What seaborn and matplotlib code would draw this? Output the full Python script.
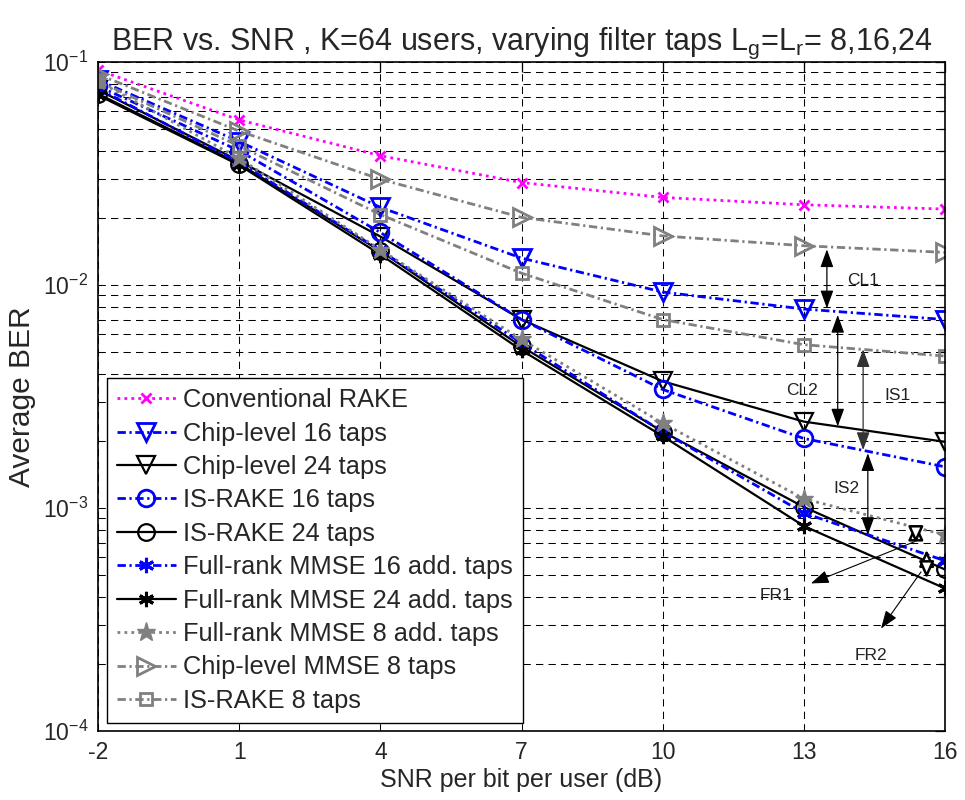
import numpy as np
import pandas as pd
import matplotlib
matplotlib.use("Agg")
import matplotlib.pyplot as plt
import seaborn as sns

# ---------------- data ----------------
snr = [-2, 1, 4, 7, 10, 13, 16]
conv_rake = [0.092, 0.055, 0.038, 0.0288, 0.0247, 0.0229, 0.0219]
chip16 = [0.083, 0.044, 0.0223, 0.0132, 0.0093, 0.0078, 0.0070]
chip24 = [0.075, 0.036, 0.0165, 0.0070, 0.0037, 0.00244, 0.00198]
israke16 = [0.078, 0.040, 0.0172, 0.0070, 0.0034, 0.00205, 0.00153]
israke24 = [0.072, 0.035, 0.0142, 0.0053, 0.0022, 0.00101, 0.00053]
fr16 = [0.076, 0.0355, 0.0143, 0.0055, 0.0022, 0.00095, 0.00058]
fr24 = [0.071, 0.0345, 0.0137, 0.0051, 0.0021, 0.00083, 0.000436]
fr8 = [0.082, 0.037, 0.0144, 0.0057, 0.0024, 0.0011, 0.000757]
chip8 = [0.088, 0.049, 0.0298, 0.0201, 0.0166, 0.0150, 0.0140]
israke8 = [0.082, 0.042, 0.0207, 0.0113, 0.0070, 0.0054, 0.0048]

labels = ["Conventional RAKE", "Chip-level 16 taps", "Chip-level 24 taps",
          "IS-RAKE 16 taps", "IS-RAKE 24 taps", "Full-rank MMSE 16 add. taps",
          "Full-rank MMSE 24 add. taps", "Full-rank MMSE 8 add. taps",
          "Chip-level MMSE 8 taps", "IS-RAKE 8 taps"]
series = [conv_rake, chip16, chip24, israke16, israke24, fr16, fr24, fr8, chip8, israke8]

xticks = [-2, 1, 4, 7, 10, 13, 16]
title = "BER vs. SNR , K=64 users, varying filter taps L$_{\\rm g}$=L$_{\\rm r}$= 8,16,24"

# annotation labels (text, x, y)
ann_labels = [("CL1", 14.25, 0.0105), ("CL2", 12.97, 0.00336), ("IS1", 15.0, 0.00321),
              ("IS2", 13.9, 0.00122), ("FR1", 12.4, 0.000407), ("FR2", 14.43, 0.000219)]

# ---------------- styles ----------------
sns.set_style("white")
plt.rcParams["font.family"] = ["Liberation Sans", "DejaVu Sans"]
plt.rcParams["mathtext.fontset"] = "custom"
plt.rcParams["mathtext.rm"] = "Liberation Sans"
plt.rcParams["mathtext.it"] = "Liberation Sans:italic"
plt.rcParams["mathtext.bf"] = "Liberation Sans:bold"

BLUE = "#0000FF"
MAG = "#FF00FF"
GRAY = "#808080"
BLK = "#000000"
dashdot = (0, (3, 1.3, 0.8, 1.3))
dotted = (0, (1, 1.5))
asterisk = (6, 2, 0)

styles = [
    dict(color=MAG, linestyle=dotted, lw=2.0, marker="x", ms=7, mec=MAG, mfc="none", mew=2),
    dict(color=BLUE, linestyle=dashdot, lw=2.0, marker="v", ms=13, mec=BLUE, mfc="none", mew=2),
    dict(color=BLK, linestyle="-", lw=1.6, marker="v", ms=13, mec=BLK, mfc="none", mew=1.6),
    dict(color=BLUE, linestyle=dashdot, lw=2.0, marker="o", ms=12, mec=BLUE, mfc="none", mew=2),
    dict(color=BLK, linestyle="-", lw=1.6, marker="o", ms=12, mec=BLK, mfc="none", mew=1.6),
    dict(color=BLUE, linestyle=dashdot, lw=2.0, marker=asterisk, ms=11, mec=BLUE, mfc=BLUE, mew=2.2),
    dict(color=BLK, linestyle="-", lw=1.6, marker=asterisk, ms=11, mec=BLK, mfc=BLK, mew=2.2),
    dict(color=GRAY, linestyle=dotted, lw=2.0, marker="*", ms=14, mec=GRAY, mfc=GRAY, mew=1),
    dict(color=GRAY, linestyle=dashdot, lw=2.0, marker=">", ms=13, mec=GRAY, mfc="none", mew=2),
    dict(color=GRAY, linestyle=dashdot, lw=2.0, marker="s", ms=9, mec=GRAY, mfc="none", mew=2),
]

fig = plt.figure(figsize=(9.65, 8.0), dpi=100)
ax = fig.add_axes([98 / 965, 1 - 731 / 800, 847 / 965, 669 / 800])

for lab, vals, st in zip(labels, series, styles):
    df = pd.DataFrame({"snr": snr, "ber": vals})
    sns.lineplot(data=df, x="snr", y="ber", ax=ax, label=lab,
                 color=st["color"], linestyle=st["linestyle"], linewidth=st["lw"],
                 marker=st["marker"], markersize=st["ms"], markeredgecolor=st["mec"],
                 markerfacecolor=st["mfc"], markeredgewidth=st["mew"], legend=False)

ax.set_yscale("log")
ax.set_xlim(-2, 16)
ax.set_ylim(1e-4, 1e-1)
ax.set_xticks(xticks)
ax.set_xticklabels([str(t) for t in xticks])

# grid, MATLAB-like
gls = (0, (7, 5))
ax.grid(True, which="major", axis="both", color="black", linestyle=gls, linewidth=0.75)
ax.grid(True, which="minor", axis="y", color="black", linestyle=gls, linewidth=0.75)
ax.set_axisbelow(True)

ax.tick_params(which="both", direction="in", top=True, right=True, labelsize=16.5,
               color="black", width=0.9, pad=7)
ax.tick_params(which="major", length=7)
ax.tick_params(which="minor", length=4)
for sp in ax.spines.values():
    sp.set_color("black")
    sp.set_linewidth(1.2)

ax.set_xlabel("SNR per bit per user (dB)", fontsize=18, labelpad=3)
ax.set_ylabel("Average BER", fontsize=21.5, labelpad=5)
ax.set_title(title, fontsize=22, pad=9)

# ---------------- annotations ----------------
def darrow(x, y0, y1, color="black", lw=0.9, hl=1.1, hw=0.4, fc=None):
    ap = dict(arrowstyle=f"<|-|>,head_length={hl},head_width={hw}",
              lw=lw, shrinkA=0, shrinkB=0)
    if fc is None:
        ap["color"] = color
    else:
        ap["facecolor"] = fc
        ap["edgecolor"] = color
    ax.annotate("", xy=(x, y1), xytext=(x, y0), arrowprops=ap, fontsize=10)

def sarrow(x0, y0, x1, y1, color="black", lw=0.8):
    ax.annotate("", xy=(x1, y1), xytext=(x0, y0),
                arrowprops=dict(arrowstyle="-|>,head_length=1.1,head_width=0.4",
                                color=color, lw=lw, shrinkA=0, shrinkB=0),
                fontsize=10)

darrow(13.49, 0.01445, 0.00786)
darrow(13.72, 0.00734, 0.00232)
darrow(14.26, 0.00515, 0.00182, color="#333333")
darrow(14.36, 0.00176, 0.000757)
darrow(15.38, 0.000853, 0.000695, hl=1.0, hw=0.45, fc="white", lw=1.8)
darrow(15.61, 0.000649, 0.000484, hl=1.0, hw=0.45, fc="white", lw=1.8)
sarrow(15.35, 0.000706, 13.15, 0.000459)
sarrow(15.49, 0.000517, 14.64, 0.000288)

for txt, x, y in ann_labels:
    ax.text(x, y, txt, fontsize=12.5, color="#222222", ha="center", va="center")

# ---------------- legend ----------------
leg = ax.legend(loc="lower left", bbox_to_anchor=(0.0106, 0.012), borderaxespad=0,
                fontsize=18.3, handlelength=2.3, handletextpad=0.3, labelspacing=0.37,
                borderpad=0.4, frameon=True, fancybox=False, framealpha=1,
                edgecolor="black")
leg.get_frame().set_linewidth(1.0)

fig.savefig("out.png", dpi=100)
